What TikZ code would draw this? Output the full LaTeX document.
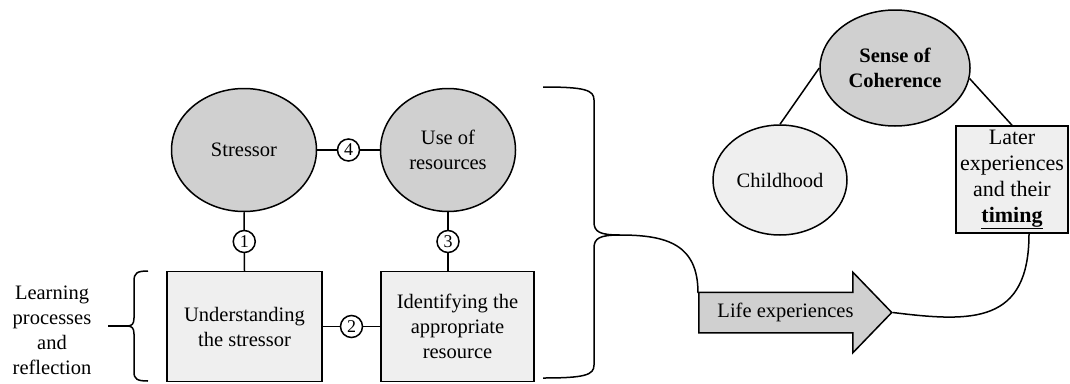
\documentclass[tikz,border=0pt]{standalone}
\usepackage{fontspec}
\setmainfont{Liberation Serif}
\usetikzlibrary{shapes, shapes.geometric, shapes.arrows, positioning, calc}
\definecolor{socgray}{HTML}{D0D0D0}
\definecolor{soclight}{HTML}{EFEFEF}

\begin{document}
\begin{tikzpicture}[
    x=1pt, y=-1pt,
    every node/.style={
        font=\fontsize{20.5}{25}\selectfont,
        align=center,
        line width=1.5pt
    },
    bigellipse/.style={ellipse, draw=black, fill=socgray, inner sep=0pt},
    smallellipse/.style={ellipse, draw=black, fill=soclight, inner sep=0pt},
    lightbox/.style={rectangle, draw=black, fill=soclight, inner sep=2pt},
    numcirc/.style={circle, draw=black, fill=white, minimum size=22pt, inner sep=0pt,
        font=\fontsize{18}{18}\selectfont},
    link/.style={draw=black, line width=1.5pt}
]
\useasboundingbox (0,0) rectangle (1070,383);

% coping model
\node[bigellipse, minimum width=145pt, minimum height=123pt] (stressor) at (244,150) {Stressor};
\node[bigellipse, minimum width=135pt, minimum height=123pt] (resources) at (448,150) {Use of\\resources};
\node[lightbox, minimum width=155pt, minimum height=110pt] (understand) at (244.5,326.5) {Understanding\\the stressor};
\node[lightbox, minimum width=153pt, minimum height=110pt] (identify) at (457.5,326.5) {Identifying the\\appropriate\\resource};

\draw[link] (stressor.south) -- node[numcirc] {1} (understand.north);
\draw[link] (understand.east) -- node[numcirc] {2} (identify.west);
\draw[link] (resources.south) -- node[numcirc] {3} (resources.south |- identify.north);
\draw[link] (stressor.east) -- node[numcirc] {4} (resources.west);

% learning brace
\node[inner xsep=16pt, inner ysep=0pt] (learn) at (52,330) {Learning\\processes\\and\\reflection};
\draw[link] (148,271) .. controls (137,271) and (134,273) .. (134,281) -- (134,318)
    .. controls (134,324) and (132,326) .. (127,326) coordinate (ltip)
    .. controls (132,326) and (134,328) .. (134,334) -- (134,372)
    .. controls (134,379) and (137,381) .. (148,381);
\draw[link] (ltip) -- (ltip -| learn.east);

% life experiences
\node[single arrow, draw=black, fill=socgray, anchor=tail, minimum height=193pt,
    single arrow head extend=20pt, single arrow tip angle=92,
    text height=14pt, text depth=5pt, inner ysep=10pt, inner xsep=4pt] (life) at (698,312.5) {Life experiences};
\coordinate (lifetop) at ($(life.tail)+(0,-19.5)$);

\draw[link] (543,87) .. controls (585,87) and (594,90) .. (594,100) -- (594,222)
    .. controls (594,232) and (600,235) .. (620,235) coordinate (btip)
    .. controls (600,235) and (594,238) .. (594,248) -- (594,365)
    .. controls (594,375) and (585,378) .. (543,378);
\draw[link] (btip) .. controls +(48,0) and +(0,-48) .. (lifetop);

% sense of coherence
\node[bigellipse, minimum width=150pt, minimum height=116pt, font=\fontsize{20.5}{25}\selectfont\bfseries] (soc) at (895,68) {Sense of\\Coherence};
\node[smallellipse, minimum width=134pt, minimum height=110pt] (childhood) at (780,180) {Childhood};
\node[lightbox, minimum width=112pt, minimum height=107pt, inner xsep=0pt, font=\fontsize{22}{26}\selectfont] (later) at (1012,179.5) {Later\\experiences\\and their\\\textbf{\underline{timing}}};
\coordinate (laterfoot) at ($(later.south)+(17,0)$);

\draw[link] (soc.west) -- (childhood.north);
\draw[link] (soc.-8) -- (later.north);
\draw[link] (life.tip) .. controls +(80,10) and +(0,90) .. (laterfoot);

\end{tikzpicture}
\end{document}
